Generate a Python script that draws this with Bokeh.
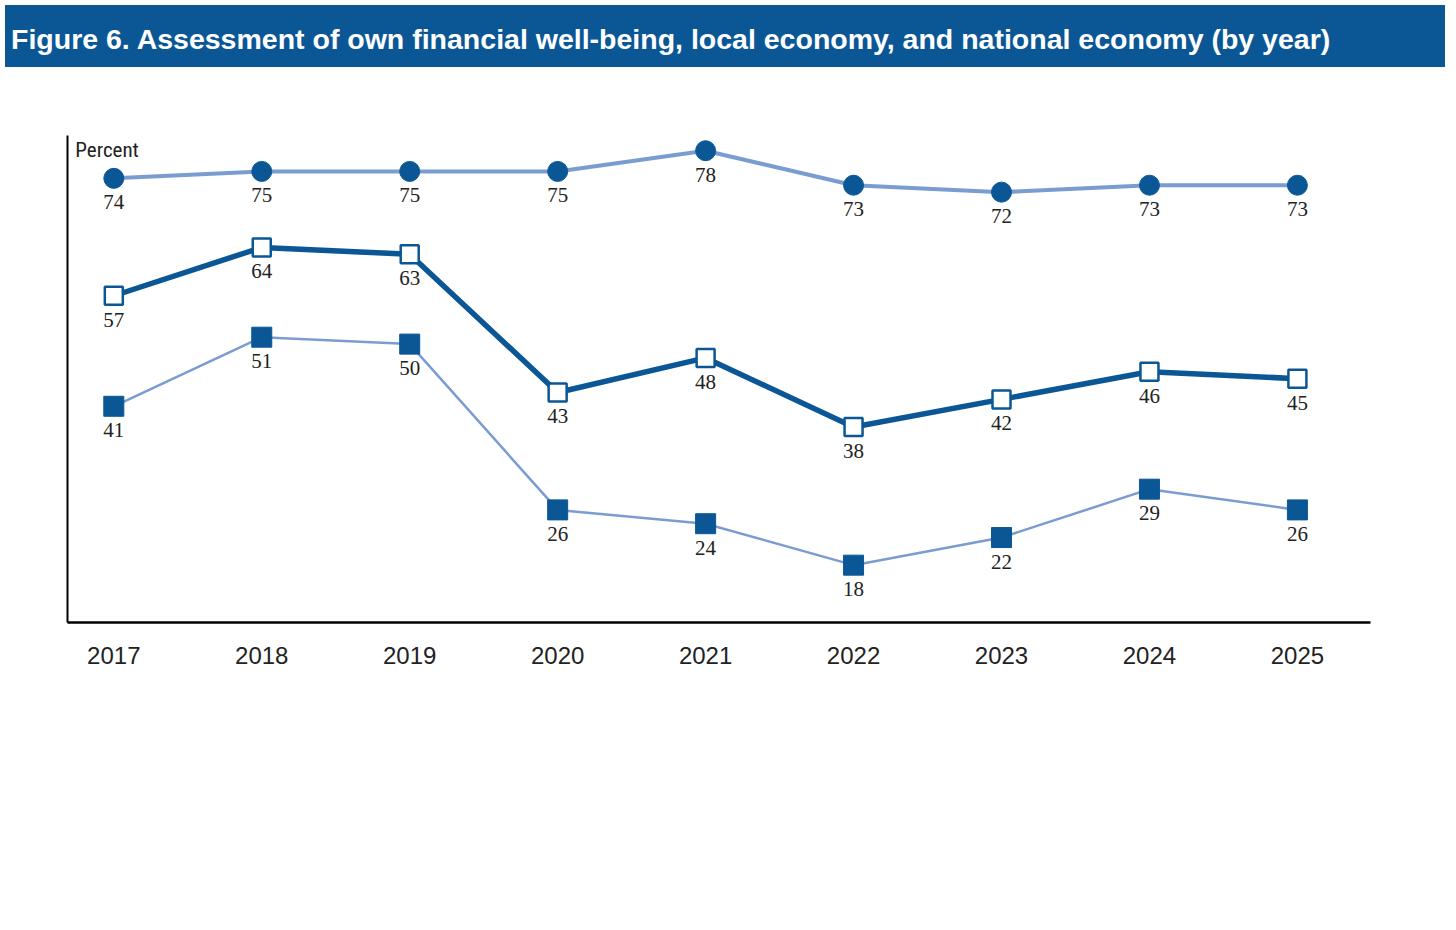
from bokeh.plotting import figure
from bokeh.models import Div, Range1d, Legend, LegendItem, ColumnDataSource, FixedTicker, LabelSet, Label
from bokeh.layouts import column
from bokeh.embed import file_html
from bokeh.resources import INLINE

years = [2017, 2018, 2019, 2020, 2021, 2022, 2023, 2024, 2025]
own = [74, 75, 75, 75, 78, 73, 72, 73, 73]
local = [57, 64, 63, 43, 48, 38, 42, 46, 45]
national = [41, 51, 50, 26, 24, 18, 22, 29, 26]
labels = ["Own finances\n(doing okay or living comfortably)",
          "Local economy\n(good or excellent)",
          "National economy\n(good or excellent)"]

DARK = "#0b5796"
LIGHT = "#7b9cd0"
NARROW = "Liberation Sans Narrow, Roboto Condensed, Liberation Sans, sans-serif"

title = Div(text="Figure 6. Assessment of own financial well-being, local economy, and national economy (by year)",
            width=1440, height=62,
            styles={"background-color": DARK, "color": "white", "font-family": "Liberation Sans, Arial, sans-serif",
                    "font-weight": "bold", "font-size": "28.5px", "padding": "14px 0 0 6px",
                    "box-sizing": "border-box", "width": "1440px", "height": "62px", "white-space": "nowrap"})

p = figure(frame_width=1303, frame_height=487, output_backend="svg", toolbar_location=None,
           x_range=Range1d(2016.687, 2025.494), y_range=Range1d(9.7, 80.2),
           min_border_left=67, min_border_right=70, min_border_top=63, min_border_bottom=10)
p.outline_line_color = None
p.grid.grid_line_color = None
p.xaxis.ticker = FixedTicker(ticks=years)
p.xaxis.major_tick_line_color = None
p.xaxis.minor_tick_line_color = None
p.xaxis.axis_line_width = 2.5
p.xaxis.axis_line_color = "black"
p.xaxis.major_label_text_font = "Liberation Sans, Arial, sans-serif"
p.xaxis.major_label_text_font_size = "24px"
p.xaxis.major_label_text_color = "#222222"
p.xaxis.major_label_standoff = 18
p.yaxis.major_tick_line_color = None
p.yaxis.minor_tick_line_color = None
p.yaxis.major_label_text_font_size = "0px"
p.yaxis.axis_line_width = 2
p.yaxis.axis_line_color = "black"
p.yaxis.ticker = FixedTicker(ticks=[])

src = ColumnDataSource(dict(x=years, own=own, local=local, national=national,
                            own_t=[str(v) for v in own], local_t=[str(v) for v in local],
                            nat_t=[str(v) for v in national]))

l1 = p.line("x", "own", source=src, line_color=LIGHT, line_width=4)
m1 = p.scatter("x", "own", source=src, marker="circle", size=20, fill_color=DARK, line_color=DARK)
l2 = p.line("x", "local", source=src, line_color=DARK, line_width=5.5)
m2 = p.scatter("x", "local", source=src, marker="square", size=18, fill_color="white", line_color=DARK, line_width=2.5)
l3 = p.line("x", "national", source=src, line_color=LIGHT, line_width=2.5)
m3 = p.scatter("x", "national", source=src, marker="square", size=20, fill_color=DARK, line_color=DARK)

for col in ["own", "local", "national"]:
    t = {"own": "own_t", "local": "local_t", "national": "nat_t"}[col]
    p.add_layout(LabelSet(x="x", y=col, text=t, source=src, y_offset=-17, text_align="center",
                          text_baseline="top", text_font=NARROW, text_font_size="21px",
                          text_color="#222222"))

p.add_layout(Label(x=2016.74, y=80.2, y_offset=-2, text="Percent", text_baseline="top",
                   text_font=NARROW, text_font_size="21px", text_color="#222222"))

legend = Legend(items=[LegendItem(label=labels[0], renderers=[l1, m1]),
                       LegendItem(label=labels[1], renderers=[l2, m2]),
                       LegendItem(label=labels[2], renderers=[l3, m3])],
                orientation="horizontal", location="center", glyph_width=85, glyph_height=40,
                label_text_font=NARROW, label_text_font_size="21px", label_text_color="#222222",
                label_text_line_height=1.05,
                spacing=75, border_line_color=None, background_fill_alpha=0, margin=18, padding=0)
p.add_layout(legend, "below")

note = Div(text="Note: Among all adults. The estimates for each of the series on the figure represent the two most favorable response "
                "choices. The four response options for own finances were \u201cliving comfortably,\u201d \u201cdoing okay,\u201d \u201cjust getting by,\u201d and "
                "\u201cfinding it difficult to get by.\u201d The response options for the local economy and the national economy were \u201cgood,\u201d \u201cexcel-"
                "lent,\u201d \u201cfair,\u201d and \u201cpoor.\u201d",
           width=1435, height=130,
           styles={"font-family": "Liberation Sans, Arial, sans-serif", "font-size": "25.3px", "line-height": "30px",
                   "color": "#222222", "padding": "18px 0 0 6px", "width": "1435px"})

page = column(title, p, note, spacing=0)
open("out.html", "w").write(file_html(page, INLINE))
